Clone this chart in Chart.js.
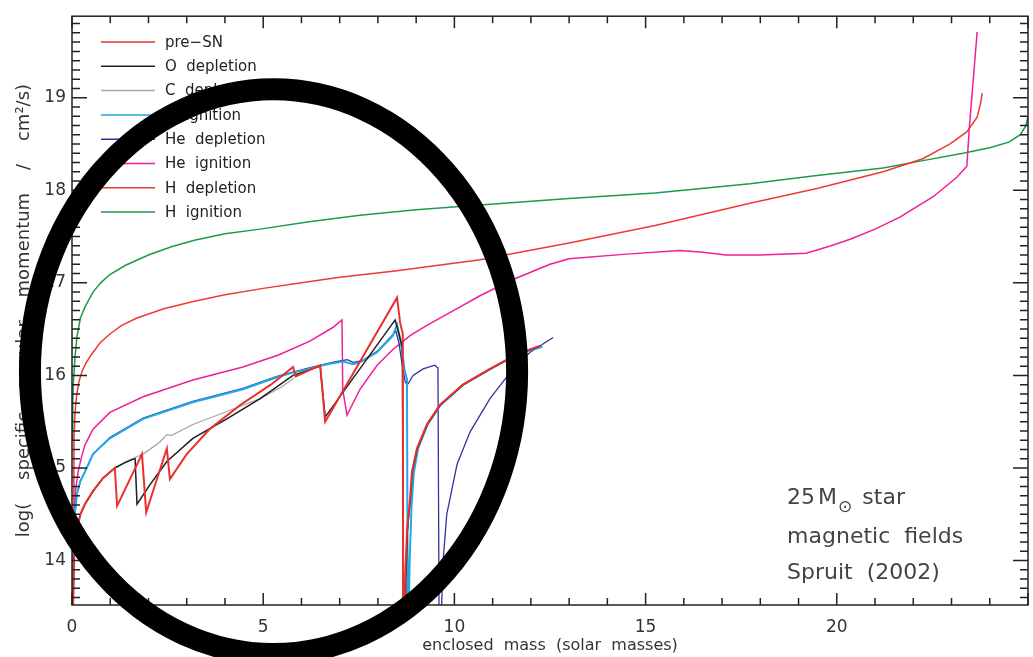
<!DOCTYPE html>
<html>
<head>
<meta charset="utf-8">
<script src="https://cdn.jsdelivr.net/npm/chart.js@4.4.1/dist/chart.umd.min.js"></script>
<style>
  html, body { margin: 0; padding: 0; background: #fff; }
  #wrap { width: 1033px; height: 657px; position: relative; }
</style>
</head>
<body>
<div id="wrap"><canvas id="chart"></canvas></div>
<script>
// series: [enclosed mass, log j]
const preSN = [[0.02,13.3],[0.05,14.0],[0.08,14.14],[0.13,14.35],[0.22,14.5],[0.34,14.61],[0.55,14.75],[0.81,14.89],[1.12,15.0],[1.18,14.59],[1.83,15.15],[1.94,14.52],[2.48,15.21],[2.56,14.88],[3.0,15.15],[3.6,15.42],[4.4,15.68],[5.2,15.9],[5.78,16.09],[5.85,15.99],[6.49,16.11],[6.62,15.5],[8.5,16.84],[8.58,16.57],[8.65,16.45],[8.66,13.3],[8.69,13.3],[8.71,13.79],[8.76,14.32],[8.84,14.67],[8.89,14.96],[9.02,15.21],[9.28,15.47],[9.62,15.68],[10.22,15.9],[10.93,16.07],[11.64,16.23],[12.24,16.32]];
const oDepletion = [[0.02,13.3],[0.05,14.0],[0.08,14.14],[0.13,14.35],[0.22,14.5],[0.34,14.61],[0.55,14.75],[0.81,14.89],[1.12,15.0],[1.35,15.05],[1.57,15.09],[1.65,15.1],[1.7,14.61],[2.04,14.82],[2.48,15.07],[3.16,15.32],[4.05,15.53],[4.92,15.75],[5.78,16.0],[6.49,16.1],[6.62,15.55],[8.45,16.6],[8.55,16.45],[8.64,16.3],[8.67,13.3],[8.71,13.3],[8.73,13.8],[8.77,14.32],[8.85,14.67],[8.9,14.96],[9.03,15.21],[9.29,15.47],[9.63,15.68],[10.23,15.9],[10.94,16.07],[11.65,16.23],[12.2,16.31]];
const cDepletion = [[0.02,13.3],[0.05,14.0],[0.08,14.14],[0.13,14.35],[0.22,14.5],[0.34,14.61],[0.55,14.75],[0.81,14.89],[1.12,15.0],[1.4,15.07],[1.86,15.15],[2.3,15.28],[2.48,15.36],[2.6,15.35],[3.16,15.47],[4.05,15.61],[4.92,15.75],[5.5,15.88],[5.8,15.97]];
const cIgnition = [[0.02,13.3],[0.03,14.1],[0.06,14.45],[0.13,14.72],[0.22,14.86],[0.34,14.96],[0.55,15.15],[0.99,15.32],[1.86,15.53],[3.16,15.71],[4.47,15.85],[5.36,15.98],[5.78,16.03],[6.67,16.12],[7.09,16.15],[7.35,16.12],[7.53,16.14],[7.98,16.25],[8.39,16.43],[8.5,16.55],[8.6,16.35],[8.7,16.05],[8.76,15.96],[8.78,13.3],[8.8,13.3],[8.83,14.0],[8.88,14.6],[8.94,14.95],[9.05,15.21],[9.3,15.47],[9.64,15.68],[10.24,15.9],[10.95,16.07],[11.66,16.23],[12.3,16.31]];
const heDepletion = [[0.02,13.3],[0.03,14.1],[0.06,14.45],[0.13,14.72],[0.22,14.86],[0.34,14.96],[0.55,15.15],[0.99,15.33],[1.86,15.54],[3.16,15.72],[4.47,15.86],[5.36,15.99],[6.2,16.08],[6.9,16.15],[7.2,16.17],[7.35,16.14],[7.6,16.16],[7.98,16.26],[8.39,16.44],[8.47,16.48],[8.55,16.35],[8.62,16.15],[8.72,15.92],[8.79,15.91],[8.92,16.0],[9.18,16.07],[9.49,16.11],[9.57,16.08],[9.6,13.3],[9.65,13.3],[9.7,13.97],[9.8,14.5],[10.07,15.04],[10.41,15.39],[10.93,15.75],[11.53,16.07],[11.98,16.25],[12.58,16.41]];
const heIgnition = [[0.02,13.3],[0.04,14.2],[0.06,14.5],[0.09,14.75],[0.16,14.96],[0.25,15.12],[0.34,15.25],[0.55,15.42],[0.99,15.6],[1.86,15.77],[3.16,15.95],[4.47,16.09],[5.4,16.22],[6.22,16.37],[6.83,16.52],[7.06,16.6],[7.08,15.85],[7.19,15.57],[7.53,15.85],[7.98,16.11],[8.39,16.28],[8.84,16.43],[9.28,16.54],[10.15,16.74],[10.67,16.86],[11.5,17.03],[12.5,17.2],[13.0,17.26],[14.5,17.31],[15.9,17.35],[16.5,17.33],[17.1,17.3],[18.0,17.3],[19.2,17.32],[19.85,17.4],[20.35,17.47],[21.0,17.58],[21.65,17.71],[22.52,17.93],[23.14,18.14],[23.4,18.26],[23.47,18.7],[23.55,19.1],[23.67,19.71]];
const hDepletion = [[0.02,13.3],[0.03,14.3],[0.05,15.3],[0.08,15.6],[0.12,15.78],[0.18,15.93],[0.26,16.04],[0.36,16.13],[0.5,16.22],[0.73,16.35],[1.0,16.45],[1.3,16.54],[1.7,16.62],[2.4,16.72],[3.2,16.8],[4.0,16.87],[5.0,16.94],[6.0,17.0],[7.0,17.06],[8.5,17.13],[10.67,17.25],[13.0,17.43],[15.25,17.62],[17.73,17.86],[19.48,18.02],[21.21,18.2],[22.25,18.34],[22.96,18.5],[23.4,18.63],[23.67,18.79],[23.77,18.96],[23.8,19.05]];
const hIgnition = [[0.0,15.3],[0.02,15.7],[0.04,15.95],[0.08,16.2],[0.13,16.42],[0.22,16.62],[0.34,16.74],[0.55,16.9],[0.75,17.0],[0.99,17.09],[1.4,17.19],[2.0,17.3],[2.6,17.39],[3.2,17.46],[4.0,17.53],[4.92,17.58],[6.2,17.66],[7.53,17.73],[9.0,17.79],[10.67,17.84],[13.0,17.91],[15.25,17.97],[17.73,18.07],[19.48,18.16],[21.21,18.24],[22.25,18.32],[23.3,18.4],[24.0,18.46],[24.5,18.52],[24.8,18.6],[24.95,18.7],[25.0,18.8]];

const seriesLabels = ['pre\u2212SN', 'O depletion', 'C depletion', 'C ignition', 'He depletion', 'He ignition', 'H depletion', 'H ignition'];
const seriesData = [preSN, oDepletion, cDepletion, cIgnition, heDepletion, heIgnition, hDepletion, hIgnition];
const seriesColors = ['#e8302c', '#1e1e1e', '#a6a6a6', '#1fa9e6', '#34349a', '#ee1f98', '#ee3a32', '#1c9a4e'];
const seriesWidths = [2, 1.5, 1.3, 2, 1.3, 1.5, 1.5, 1.5];

const xTicks = [0, 5, 10, 15, 20];
const yTicks = [14, 15, 16, 17, 18, 19];
const xRange = [0, 25];
const yRange = [13.52, 19.88];

const noteLines = ['star', 'magnetic  fields', 'Spruit  (2002)'];
const notePos = [18.7, [14.67, 14.25, 13.86]];
// hand-drawn ring, in data units: centre x, centre y, half width, half height
const ring = [5.27, 16.04, 6.37, 3.05];

const FONT = "'DejaVu Sans', sans-serif";

const boxPlugin = {
  id: 'boxPlugin',
  afterDatasetsDraw(chart) {
    const { ctx, chartArea: a, scales: { x, y } } = chart;
    ctx.save();
    ctx.strokeStyle = '#222';
    ctx.lineWidth = 1.5;
    ctx.strokeRect(a.left, a.top, a.right - a.left, a.bottom - a.top);
    ctx.beginPath();
    for (let v = xRange[0]; v <= xRange[1]; v++) {
      const px = x.getPixelForValue(v);
      const len = v % 5 === 0 ? 12 : 7;
      ctx.moveTo(px, a.bottom); ctx.lineTo(px, a.bottom - len);
      ctx.moveTo(px, a.top); ctx.lineTo(px, a.top + len);
    }
    for (let i = Math.ceil(yRange[0] * 10); i <= Math.floor(yRange[1] * 10); i++) {
      const py = y.getPixelForValue(i / 10);
      const len = i % 10 === 0 ? 15 : 8;
      ctx.moveTo(a.left, py); ctx.lineTo(a.left + len, py);
      ctx.moveTo(a.right, py); ctx.lineTo(a.right - len, py);
    }
    ctx.stroke();

    // legend
    ctx.font = '15px ' + FONT;
    ctx.textBaseline = 'middle';
    chart.data.datasets.forEach((ds, i) => {
      const yy = 42 + i * 24.3;
      ctx.strokeStyle = ds.borderColor;
      ctx.lineWidth = 1.5;
      ctx.beginPath();
      ctx.moveTo(101, yy); ctx.lineTo(155, yy);
      ctx.stroke();
      ctx.fillStyle = '#222';
      ctx.fillText(ds.label.replace(' ', '  '), 165, yy + 1);
    });

    // note
    ctx.fillStyle = '#444';
    ctx.font = '22px ' + FONT;
    const nx = x.getPixelForValue(notePos[0]);
    const l0 = y.getPixelForValue(notePos[1][0]);
    let cx = nx;
    ctx.fillText('25', cx, l0);
    cx += ctx.measureText('25').width + 3;
    ctx.fillText('M', cx, l0);
    cx += ctx.measureText('M').width + 1;
    ctx.font = '17px ' + FONT;
    ctx.fillText('\u2299', cx, l0 + 9);
    cx += ctx.measureText('\u2299').width + 10;
    ctx.font = '22px ' + FONT;
    ctx.fillText(noteLines[0], cx, l0);
    ctx.fillText(noteLines[1], nx, y.getPixelForValue(notePos[1][1]));
    ctx.fillText(noteLines[2], nx, y.getPixelForValue(notePos[1][2]));
    ctx.restore();
  },
  afterDraw(chart) {
    const { ctx, scales: { x, y } } = chart;
    const cx = x.getPixelForValue(ring[0]);
    const cy = y.getPixelForValue(ring[1]);
    const rx = x.getPixelForValue(ring[0] + ring[2]) - cx;
    const ry = cy - y.getPixelForValue(ring[1] + ring[3]);
    ctx.save();
    ctx.strokeStyle = '#000';
    ctx.lineWidth = 22;
    ctx.beginPath();
    ctx.ellipse(cx, cy, rx, ry, 0, 0, Math.PI * 2);
    ctx.stroke();
    ctx.restore();
  }
};

const isWhole = v => Math.abs(v - Math.round(v)) < 1e-6;

new Chart(document.getElementById('chart'), {
  type: 'scatter',
  data: {
    datasets: seriesData.map((pts, i) => ({
      label: seriesLabels[i],
      data: pts.map(p => ({ x: p[0], y: p[1] })),
      showLine: true,
      borderColor: seriesColors[i],
      backgroundColor: seriesColors[i],
      borderWidth: seriesWidths[i],
      pointRadius: 0,
      tension: 0
    }))
  },
  options: {
    responsive: true,
    maintainAspectRatio: false,
    animation: false,
    layout: { padding: { top: 11, right: 5, left: 0, bottom: 0 } },
    plugins: { legend: { display: false }, tooltip: { enabled: false } },
    scales: {
      x: {
        type: 'linear',
        min: xRange[0],
        max: xRange[1],
        grid: { display: false, drawTicks: false },
        border: { display: false },
        afterBuildTicks: s => { s.ticks = xTicks.map(v => ({ value: v })); },
        afterFit: s => { s.height = 52; },
        ticks: { padding: 12, color: '#333', font: { family: FONT, size: 17 }, maxRotation: 0 },
        title: { display: true, text: 'enclosed  mass  (solar  masses)', color: '#333',
                 font: { family: FONT, size: 16 }, padding: { top: 0, bottom: 2 } }
      },
      y: {
        type: 'linear',
        min: yRange[0],
        max: yRange[1],
        grid: { display: false, drawTicks: false },
        border: { display: false },
        afterBuildTicks: s => { s.ticks = yTicks.map(v => ({ value: v })); },
        afterFit: s => { s.width = 72; },
        ticks: { padding: 6, color: '#333', font: { family: FONT, size: 17 },
                 callback: v => isWhole(v) ? String(Math.round(v)) : '' },
        title: { display: true, text: 'log(    specific    angular    momentum    /    cm\u00b2/s)', color: '#333',
                 font: { family: FONT, size: 18 }, padding: { top: 14, bottom: 0 } }
      }
    }
  },
  plugins: [boxPlugin]
});
</script>
</body>
</html>
